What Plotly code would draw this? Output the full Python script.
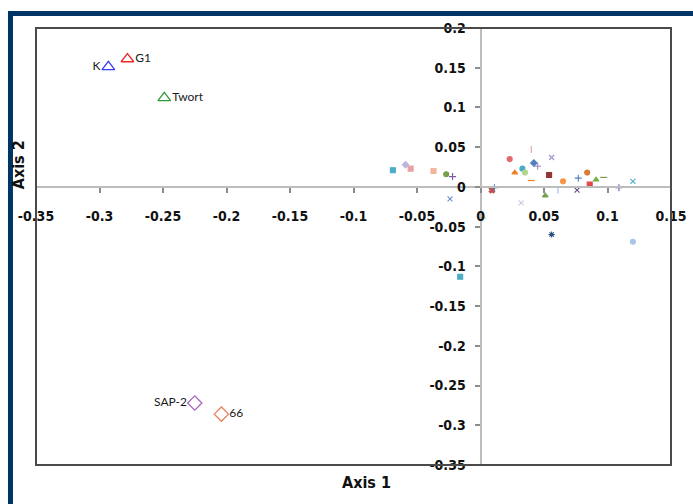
import plotly.graph_objects as go

# Named strains (labelled points)
strain_names = ["K", "G1", "Twort", "SAP-2", "66"]
strain_axis1 = [-0.293, -0.278, -0.249, -0.225, -0.204]
strain_axis2 = [0.151, 0.161, 0.112, -0.272, -0.286]

# Remaining isolates (unlabelled points)
isolate_axis1 = [-0.069, -0.059, -0.055, -0.037, -0.027, -0.022, -0.024, 0.009, 0.011,
                 0.023, 0.027, 0.033, 0.035, 0.040, 0.040, 0.042, 0.045, 0.032, 0.056,
                 0.054, 0.065, 0.077, 0.084, 0.086, 0.091, 0.097, 0.109, 0.120, 0.061,
                 0.076, 0.051, 0.056, 0.120, -0.016, 0.002]
isolate_axis2 = [0.021, 0.028, 0.023, 0.020, 0.016, 0.013, -0.015, -0.004, -0.001,
                 0.035, 0.018, 0.023, 0.018, 0.008, 0.047, 0.030, 0.026, -0.020, 0.037,
                 0.015, 0.007, 0.011, 0.018, 0.003, 0.009, 0.012, -0.001, 0.007, -0.004,
                 -0.004, -0.011, -0.060, -0.069, -0.113, -0.038]

x_ticks = [-0.35, -0.3, -0.25, -0.2, -0.15, -0.1, -0.05, 0, 0.05, 0.1, 0.15]
x_tick_text = ["-0.35", "-0.3", "-0.25", "-0.2", "-0.15", "-0.1", "-0.05", "0", "0.05", "0.1", "0.15"]
y_ticks = [0.2, 0.15, 0.1, 0.05, 0, -0.05, -0.1, -0.15, -0.2, -0.25, -0.3, -0.35]
y_tick_text = ["0.2", "0.15", "0.1", "0.05", "0", "-0.05", "-0.1", "-0.15", "-0.2", "-0.25", "-0.3", "-0.35"]

# Marker styling
strain_symbols = ["triangle-up-open", "triangle-up-open", "triangle-up-open", "diamond-open", "diamond-open"]
strain_colors = ["#3b3bf5", "#f02828", "#2f9a36", "#a865bf", "#e8805a"]
strain_textpos = ["middle left", "middle right", "middle right", "middle left", "middle right"]

isolate_symbols = ["square", "diamond", "square", "square", "circle", "cross-thin-open", "x-thin-open",
                   "x", "cross-thin-open", "circle", "triangle-up", "circle", "circle", "line-ew-open",
                   "line-ns-open", "diamond", "cross-thin-open", "x-thin-open", "x-thin-open", "square",
                   "circle", "cross-thin-open", "circle", "square", "triangle-up", "line-ew-open",
                   "cross-thin-open", "x-thin-open", "line-ns-open", "x-thin-open", "triangle-up",
                   "asterisk-open", "circle", "square", "triangle-up"]
isolate_colors = ["#4bacc6", "#b7b7e0", "#e6a3a3", "#f4b59c", "#77a04a", "#7a5aa8", "#6a8cd0",
                  "#c0504d", "#4f81bd", "#e06a6a", "#f07e26", "#4bacc6", "#b3d48c", "#f07e26",
                  "#e6a0a0", "#4f81bd", "#9a88c4", "#c8c8e6", "#a593cc", "#963634", "#f79646",
                  "#4f81bd", "#d87c3a", "#e04848", "#77b04a", "#77933c", "#7a5aa8", "#4bacc6",
                  "#9ab8e6", "#604a84", "#77a04a", "#254f82", "#a6c8e6", "#4bacc6", "#d8e8c4"]

fig = go.Figure()

fig.add_trace(go.Scatter(
    x=isolate_axis1, y=isolate_axis2, mode="markers",
    marker=dict(symbol=isolate_symbols, color=isolate_colors, size=5,
                line=dict(width=1.1, color=isolate_colors)),
    hoverinfo="x+y", showlegend=False,
))

fig.add_trace(go.Scatter(
    x=strain_axis1, y=strain_axis2, mode="markers+text",
    text=strain_names, textposition=strain_textpos,
    textfont=dict(family="Lato, Liberation Sans", size=12, color="#1a1a1a"),
    marker=dict(symbol=strain_symbols, color=strain_colors, size=11,
                line=dict(width=1.3, color=strain_colors)),
    hoverinfo="text+x+y", showlegend=False,
))

narrow = "Liberation Sans Narrow, Arial Narrow, DejaVu Sans Condensed, Arial"
tick_font = dict(family=narrow, size=14, color="#111111", weight="bold")

fig.update_xaxes(
    range=[-0.35, 0.15], domain=[0, 1], anchor="free", position=0.35 / 0.55,
    showline=True, linecolor="#bdbdbd", linewidth=2,
    ticks="outside", ticklen=5, tickwidth=1.5, tickcolor="#8c8c8c",
    tickvals=x_ticks, ticktext=x_tick_text, tickfont=tick_font,
    ticklabelstandoff=11, showgrid=False, zeroline=False, automargin=False,
)
fig.update_yaxes(
    range=[-0.35, 0.2], domain=[0, 1], anchor="free", position=0.7,
    showline=True, linecolor="#bdbdbd", linewidth=2,
    ticks="outside", ticklen=5, tickwidth=1.5, tickcolor="#8c8c8c",
    tickvals=y_ticks, ticktext=y_tick_text, tickfont=tick_font,
    ticklabelstandoff=6, showgrid=False, zeroline=False, automargin=False,
)

shapes = [
    # plot frame
    dict(type="rect", xref="paper", yref="paper", x0=0, x1=1, y0=0, y1=1,
         line=dict(color="#4a4a4a", width=2), layer="above"),
    # navy page border (top and left)
    dict(type="line", xref="paper", yref="paper", x0=-0.044, x1=1.06, y0=1.0332, y1=1.0332,
         line=dict(color="#003366", width=5)),
    dict(type="line", xref="paper", yref="paper", x0=-0.0402, x1=-0.0402, y0=1.0389, y1=-0.1,
         line=dict(color="#003366", width=5)),
]

title_font = dict(family=narrow, size=16, color="#111111", weight="bold")
annotations = [
    dict(text="Axis 1", xref="paper", yref="paper", x=0.52, y=-0.039,
         xanchor="center", yanchor="middle", showarrow=False, font=title_font),
    dict(text="Axis 2", xref="paper", yref="paper", x=-0.0283, y=0.686, textangle=-90,
         xanchor="center", yanchor="middle", showarrow=False, font=title_font),
]

fig.update_layout(
    width=693, height=504,
    margin=dict(l=36, r=22, t=28, b=39),
    paper_bgcolor="white", plot_bgcolor="white",
    shapes=shapes, annotations=annotations,
)

fig.write_html("out.html")
